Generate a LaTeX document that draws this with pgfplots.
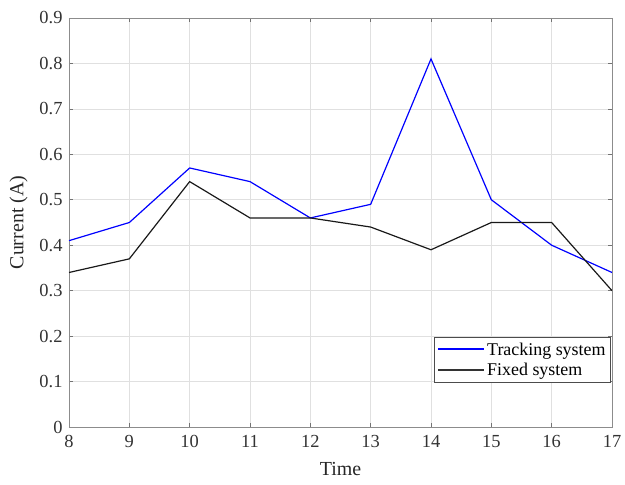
\documentclass[border=0pt]{standalone}
\usepackage{fontspec}
\setmainfont{Liberation Serif}
\usepackage{pgfplots}
\pgfplotsset{compat=1.18}
\begin{document}
\begin{tikzpicture}
\begin{axis}[
  scale only axis,
  width=543bp, height=409bp,
  xmin=8, xmax=17, ymin=0, ymax=0.9,
  xtick={8,...,17},
  ytick={0,0.1,...,0.9},
  yticklabel style={/pgf/number format/fixed,/pgf/number format/precision=1, xshift=-3bp},
  xticklabel style={yshift=-5bp},
  /pgf/number format/assume math mode=true,
  tick align=inside,
  tick pos=both,
  major tick length=4bp,
  tick style={color=black!55, line width=0.6pt},
  axis line style={color=black!45, line width=0.8pt},
  grid=major,
  grid style={color=black!12, line width=0.6pt},
  ticklabel style={font=\fontsize{18.5}{21}\selectfont, text=black!80},
  xlabel={Time}, ylabel={Current (A)},
  label style={font=\fontsize{20}{23}\selectfont, text=black!85},
  xlabel style={yshift=-8bp},
  ylabel style={yshift=5bp},
  legend style={at={(rel axis cs:0.998,0.108)}, anchor=south east,
    font=\fontsize{18}{21}\selectfont, draw=black!70, line width=0.7pt,
    inner xsep=3bp, inner ysep=3bp, row sep=3bp},
  legend cell align=left,
]
\addplot[color=blue, line width=1.2pt,
  legend image code/.code={\draw[draw=blue, line width=1.6pt] (0bp,0.5bp) -- (46bp,0.5bp);}] coordinates {
(8,0.41) (9,0.45) (10,0.57) (11,0.54) (12,0.46) (13,0.49) (14,0.81) (15,0.50) (16,0.40) (17,0.34)};
\addlegendentry{Tracking system}
\addplot[color=black!90, line width=1.2pt,
  legend image code/.code={\draw[draw=black!80, line width=1.6pt] (0bp,0.5bp) -- (46bp,0.5bp);}] coordinates {
(8,0.34) (9,0.37) (10,0.54) (11,0.46) (12,0.46) (13,0.44) (14,0.39) (15,0.45) (16,0.45) (17,0.30)};
\addlegendentry{Fixed system}
\end{axis}
\pgfresetboundingbox
\path ([shift={(-69bp,-58bp)}]current axis.south west) rectangle ([shift={(13bp,18bp)}]current axis.north east);
\end{tikzpicture}
\end{document}
